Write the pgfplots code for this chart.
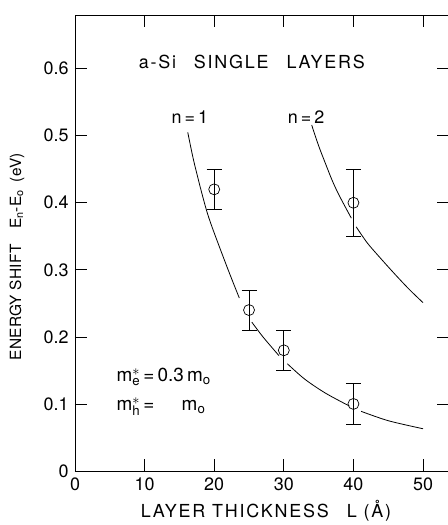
\documentclass[border=0pt]{standalone}
\usepackage{pgfplots}
\pgfplotsset{compat=1.18}
\usepackage{fontspec}
\setmainfont{TeX Gyre Heros}
\setsansfont{TeX Gyre Heros}
\pgfplotstableread{
x y
16.2 0.505
17 0.465
18 0.423
19 0.385
20 0.355
22 0.300
23.6 0.258
25.4 0.222
27 0.200
29.3 0.172
30.5 0.160
33 0.137
36 0.116
39.4 0.097
41.1 0.089
45 0.075
50 0.063
}\curveone
\pgfplotstableread{
x y
34 0.516
35 0.485
36 0.458
37 0.432
38 0.410
39.7 0.377
40.4 0.364
42 0.340
44 0.316
46 0.293
48 0.271
50 0.251
}\curvetwo
\pgfplotstableread{
x y e
20 0.42 0.03
25 0.24 0.03
30 0.18 0.03
40 0.10 0.03
40 0.40 0.05
}\points
\begin{document}
\begin{tikzpicture}[x=1bp,y=1bp]
\begin{axis}[
  scale only axis,
  width=374.5bp, height=456bp,
  xmin=0, xmax=53.8, ymin=0, ymax=0.68,
  xtick={0,10,20,30,40,50},
  ytick={0,0.1,0.2,0.3,0.4,0.5,0.6},
  yticklabels={0,0.1,0.2,0.3,0.4,0.5,0.6},
  xticklabels={0,10,20,30,40,50},
  tick align=inside,
  major tick length=12bp,
  tick style={black, line width=0.7pt},
  axis line style={line width=0.8pt},
  ticklabel style={font=\fontsize{18}{21}\selectfont},
  xticklabel style={yshift=-3bp},
  yticklabel style={xshift=-3bp},
  xlabel={\addfontfeatures{LetterSpace=10}LAYER THICKNESS\quad L (Å)},
  ylabel={\addfontfeatures{LetterSpace=2}ENERGY SHIFT\quad E$_{\mathsf{n}}$-E$_{\mathsf{o}}$\enspace(eV)},
  every axis x label/.style={at={(axis description cs:0.51,-0.087)}, anchor=center, font=\fontsize{18}{21}\selectfont},
  every axis y label/.style={at={(axis description cs:-0.155,0.47)}, rotate=90, anchor=center, inner sep=0pt, font=\fontsize{15.5}{19}\selectfont},
  clip=false,
]
\addplot[black, line width=0.8pt, smooth, restrict x to domain=16:23.7] table[x=x,y=y] {\curveone};
\addplot[black, line width=0.8pt, smooth, restrict x to domain=25.3:29.4] table[x=x,y=y] {\curveone};
\addplot[black, line width=0.8pt, smooth, restrict x to domain=30.4:39.5] table[x=x,y=y] {\curveone};
\addplot[black, line width=0.8pt, smooth, restrict x to domain=41:50] table[x=x,y=y] {\curveone};
\addplot[black, line width=0.8pt, smooth, restrict x to domain=33:39.8] table[x=x,y=y] {\curvetwo};
\addplot[black, line width=0.8pt, smooth, restrict x to domain=40.3:50] table[x=x,y=y] {\curvetwo};
\addplot[only marks, mark=o, mark size=5.5bp, mark options={black, fill=white, line width=0.7pt},
  error bars/.cd, y dir=both, y explicit,
  error bar style={black, line width=0.7pt},
  error mark options={rotate=90, mark size=7.5bp, line width=0.7pt, black}]
  table[x=x,y=y,y error=e] {\points};
\node[font=\fontsize{18}{21}\selectfont] at (axis cs:25.4,0.61) {\addfontfeatures{LetterSpace=10}a-Si\quad SINGLE\quad LAYERS};
\node[font=\fontsize{18}{21}\selectfont] at (axis cs:16.5,0.527) {n\,=\,1};
\node[font=\fontsize{18}{21}\selectfont] at (axis cs:33.2,0.527) {n\,=\,2};
\node[font=\fontsize{19}{22}\selectfont, anchor=west, inner sep=1pt] at (axis cs:5.8,0.140) {m$^{\ast}_{\mathsf{e}}$\,=\,0.3\,m$_{\mathsf{o}}$};
\node[font=\fontsize{19}{22}\selectfont, anchor=west, inner sep=1pt] at (axis cs:5.8,0.096) {m$^{\ast}_{\mathsf{h}}$\,=\quad\, m$_{\mathsf{o}}$};
\end{axis}
\pgfresetboundingbox
\path[use as bounding box] ([xshift=-75bp,yshift=-54bp]current axis.south west) rectangle ([xshift=-1.5bp,yshift=15bp]current axis.north east);
\end{tikzpicture}
\end{document}
